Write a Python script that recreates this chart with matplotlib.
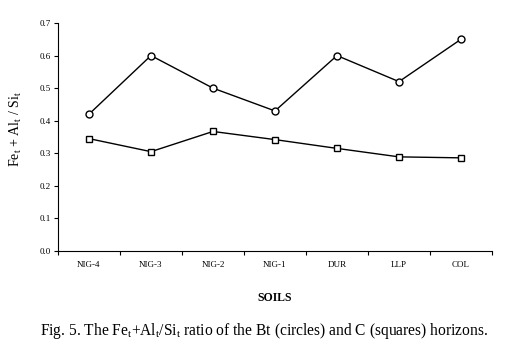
import matplotlib
matplotlib.use("Agg")
import matplotlib.pyplot as plt
import numpy as np

plt.rcParams['font.family'] = ['Liberation Serif', 'DejaVu Serif']
plt.rcParams['mathtext.fontset'] = 'custom'
plt.rcParams['mathtext.rm'] = 'Liberation Serif'

## data
soils = ["NIG-4", "NIG-3", "NIG-2", "NIG-1", "DUR", "LLP", "COL"]
bt_ratio = [0.42, 0.60, 0.50, 0.43, 0.60, 0.52, 0.65]   # circles
c_ratio = [0.345, 0.305, 0.367, 0.342, 0.315, 0.289, 0.286]  # squares

fig = plt.figure(figsize=(5.28, 3.57), dpi=100)
ax = fig.add_axes([0.1098, 0.2969, 0.822, 0.6387])

x = np.arange(len(soils))
ax.plot(x, bt_ratio, '-o', color='black', lw=1, ms=5, mfc='white', mec='black', mew=1)
ax.plot(x, c_ratio, '-s', color='black', lw=1, ms=5, mfc='white', mec='black', mew=1)

ax.set_xlim(-0.5, len(soils) - 0.5)
ax.set_ylim(0, 0.7)
ax.set_yticks(np.arange(0, 0.71, 0.1))
ax.set_yticklabels(["%.1f" % v for v in np.arange(0, 0.71, 0.1)])
ax.set_xticks(np.arange(-0.5, len(soils)), labels=[])
ax.set_xticks(x, labels=soils, minor=True)
ax.tick_params(axis='x', which='minor', length=0, pad=7, labelsize=6.5)
ax.tick_params(axis='x', which='major', length=3, direction='out')
ax.tick_params(axis='y', length=3, direction='out', labelsize=6.5, pad=2)
for s in ['top', 'right']:
    ax.spines[s].set_visible(False)

fig.text(0.03, 0.64, r'Fe$_\mathregular{t}$ + Al$_\mathregular{t}$ / Si$_\mathregular{t}$',
         rotation=90, ha='center', va='center', fontsize=10)
fig.text(0.52, 0.165, "SOILS", ha='center', va='center', fontsize=8.5, fontweight='bold')
fig.text(0.5, 0.073, r'Fig. 5. The Fe$_\mathregular{t}$+Al$_\mathregular{t}$/Si$_\mathregular{t}$ ratio of the Bt (circles) and C (squares) horizons.',
         ha='center', va='center', fontsize=11.2)

fig.savefig("out.png", dpi=100)
